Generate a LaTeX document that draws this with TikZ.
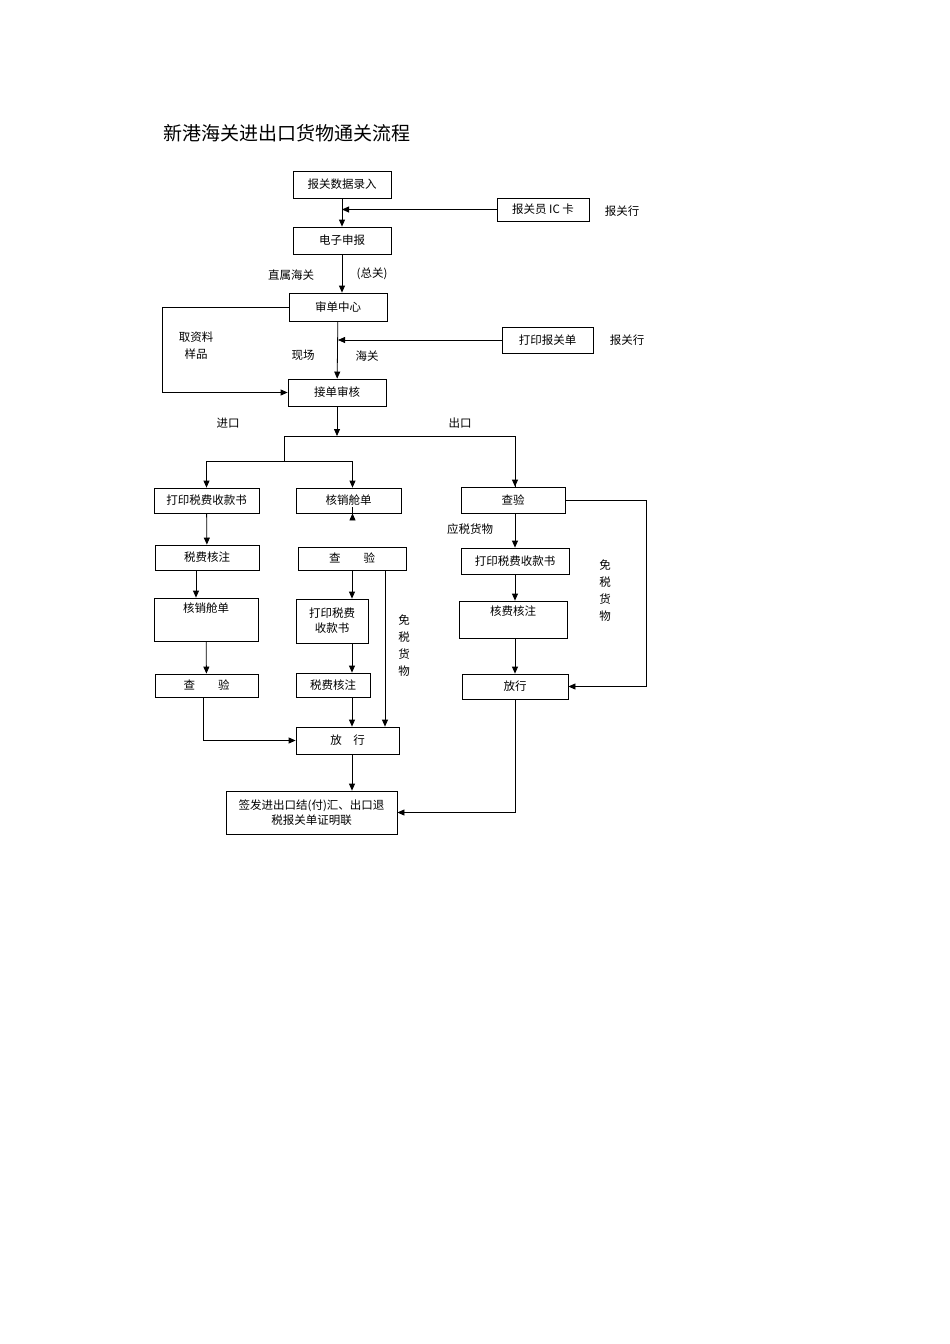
\documentclass[tikz,border=0pt]{standalone}
\usepackage{fontspec}
\setmainfont{Noto Sans CJK SC}
\usetikzlibrary{arrows.meta, positioning, calc}

\begin{document}
\begin{tikzpicture}[
    x=1pt, y=-1pt,
    box/.style={rectangle, draw=black, thick, fill=white, inner sep=0pt,
                font=\fontsize{11.5}{15}\selectfont, align=center},
    lbl/.style={inner sep=0pt, font=\fontsize{11.5}{15}\selectfont},
    vlbl/.style={inner sep=0pt, font=\fontsize{11.5}{17}\selectfont, align=center},
    arrow/.style={-{Triangle[length=7pt, width=6pt]}, thick}
  ]
    \useasboundingbox (0,0) rectangle (950,1344);

    % Title
    \node[inner sep=0pt, anchor=west, font=\fontsize{19}{22}\selectfont] (title) at (163,133) {新港海关进出口货物通关流程};

    % Top chain
    \node[box, minimum width=98, minimum height=27] (entry) at (342,184.5) {报关数据录入};
    \node[box, minimum width=92, minimum height=23] (card) at (543,209.5) {报关员 IC 卡};
    \node[lbl] (agent1) at (622,211) {报关行};
    \node[box, minimum width=98, minimum height=27] (edecl) at (342,240.5) {电子申报};
    \node[lbl] (direct) at (291,275) {直属海关};
    \node[lbl] (general) at (372,274) {(总关)};
    \node[box, minimum width=98, minimum height=28] (review) at (338,307) {审单中心};
    \node[box, minimum width=91, minimum height=26] (print) at (547.5,340) {打印报关单};
    \node[lbl] (agent2) at (627,340) {报关行};
    \node[vlbl] (sample) at (196,346) {取资料\\样品};
    \node[lbl] (site) at (303,355) {现场};
    \node[lbl] (customs) at (367,356) {海关};
    \node[box, minimum width=98, minimum height=27] (accept) at (337,392.5) {接单审核};
    \node[lbl] (imp) at (228,423) {进口};
    \node[lbl] (exp) at (460,423) {出口};

    % Import, column 1
    \node[box, minimum width=105, minimum height=25] (ataxbill) at (206.5,500.5) {打印税费收款书};
    \node[box, minimum width=104, minimum height=25] (ataxnote) at (207,557.5) {税费核注};
    \node[box, minimum width=104, minimum height=43, text depth=24pt] (amanifest) at (206,619.5) {核销舱单};
    \node[box, minimum width=103, minimum height=23] (ainspect) at (206.5,685.5) {查\hspace{2em}验};

    % Import, column 2
    \node[box, minimum width=105, minimum height=25] (bmanifest) at (348.5,500.5) {核销舱单};
    \node[box, minimum width=108, minimum height=23] (binspect) at (352,558.5) {查\hspace{2em}验};
    \node[box, minimum width=72, minimum height=44] (btaxbill) at (332,621) {打印税费\\收款书};
    \node[box, minimum width=74, minimum height=24] (btaxnote) at (333,685) {税费核注};
    \node[vlbl] (bfree) at (404,646) {免\\税\\货\\物};
    \node[box, minimum width=103, minimum height=27] (brelease) at (347.5,740.5) {放\hspace{1em}行};
    \node[box, minimum width=171, minimum height=43] (certify) at (311.5,812.5) {签发进出口结(付)汇、出口退\\税报关单证明联};

    % Export column
    \node[box, minimum width=104, minimum height=26] (cinspect) at (513,500) {查验};
    \node[lbl] (dutiable) at (470,529) {应税货物};
    \node[box, minimum width=108, minimum height=26] (ctaxbill) at (515,561) {打印税费收款书};
    \node[box, minimum width=108, minimum height=37, text depth=18pt] (cfeenote) at (513,619.5) {核费核注};
    \node[box, minimum width=106, minimum height=25] (crelease) at (515,686.5) {放行};
    \node[vlbl] (cfree) at (605,591) {免\\税\\货\\物};

    % Helper points
    \coordinate (split) at (337,436);
    \coordinate (isplit) at (284,461);

    % Top connectors
    \draw[arrow] (entry) -- (edecl);
    \draw[arrow] (card.west) -- (entry.south |- card.west);
    \draw[arrow] (edecl) -- (review.north -| edecl);
    \draw[arrow] (review) -- (accept);
    \draw[arrow] (print.west) -- (review.south |- print.west);
    \draw[arrow] (review.west) -- ++(-126,0) |- (accept.west);

    % Split into import and export
    \draw[arrow] (accept) -- (split);
    \draw[thick] (split -| isplit) -- (split -| crelease) -- (cinspect.north -| crelease);
    \draw[arrow] (split -| crelease) -- (cinspect.north -| crelease);
    \draw[thick] (split -| isplit) -- (isplit);
    \draw[arrow] (isplit) -| (ataxbill.north);
    \draw[arrow] (isplit) -| ($(bmanifest.north)+(4,0)$);

    % Column 1
    \draw[arrow] (ataxbill) -- (ataxnote);
    \draw[arrow] (ataxnote.south -| 196,0) -- (amanifest.north -| 196,0);
    \draw[arrow] (amanifest) -- (ainspect);
    \draw[arrow] (ainspect.south -| 203,0) |- (brelease.west);

    % Column 2
    \draw[arrow] ($(bmanifest.south)+(4,0)$) -- ($(bmanifest.south)+(4,0)$ |- binspect.north);
    \draw[arrow] (binspect.south -| 352,0) -- (btaxbill.north -| 352,0);
    \draw[arrow] (btaxbill.south -| 352,0) -- (btaxnote.north -| 352,0);
    \draw[arrow] (btaxnote.south -| 352,0) -- (brelease.north -| 352,0);
    \draw[arrow] (binspect.south -| 385,0) -- (brelease.north -| 385,0);
    \draw[arrow] (brelease.south -| 352,0) -- (certify.north -| 352,0);

    % Export column
    \draw[arrow] (cinspect.south -| crelease) -- (ctaxbill.north -| crelease);
    \draw[arrow] (ctaxbill.south -| crelease) -- (cfeenote.north -| crelease);
    \draw[arrow] (cfeenote.south -| crelease) -- (crelease.north -| crelease);
    \draw[arrow] (cinspect.east) -- ++(81,0) |- (crelease.east);
    \draw[arrow] (crelease.south) |- (certify.east);
\end{tikzpicture}
\end{document}
